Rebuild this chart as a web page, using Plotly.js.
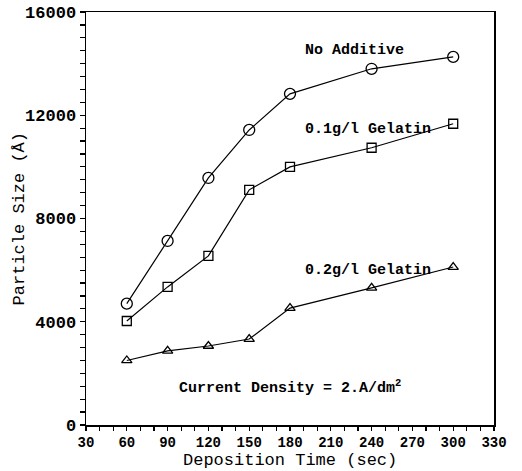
<!DOCTYPE html>
<html>
<head>
<meta charset="utf-8">
<script src="https://cdn.plot.ly/plotly-3.0.1.min.js"></script>
<style>html,body{margin:0;padding:0;background:#fff;}#chart{width:522px;height:471px;}</style>
</head>
<body>
<div id="chart"></div>
<script>
const times = [60, 90, 120, 150, 180, 240, 300];
const noAdditive = [4700, 7130, 9570, 11430, 12830, 13800, 14260];
const gelatin01 = [4030, 5350, 6550, 9110, 10000, 10740, 11670];
const gelatin02 = [2500, 2870, 3060, 3330, 4530, 5310, 6120];
const seriesNames = ["No Additive", "0.1g/l Gelatin", "0.2g/l Gelatin"];
const xTickStart = 30, xTickStep = 30, xMinorStep = 10;
const yTickStep = 4000, yMinorStep = 500;
const xRange = [30, 330], yRange = [0, 16000];

function tickSet(lo, hi, minor, major, offset) {
  const vals = [], text = [];
  for (let v = lo; v <= hi; v += minor) {
    vals.push(v);
    text.push(((v - offset) % major === 0) ? String(v) : '');
  }
  return {vals, text};
}
const xTicks = tickSet(xRange[0], xRange[1], xMinorStep, xTickStep, xTickStart);
const yTicks = tickSet(yRange[0], yRange[1], yMinorStep, yTickStep, 0);

const FONT = '"Courier New", "Liberation Mono", "DejaVu Sans Mono", monospace';

function trace(y, symbol, size, name) {
  return {
    x: times, y: y, name: name, type: 'scatter', mode: 'lines+markers',
    line: {color: '#000', width: 1.2},
    marker: {symbol: symbol, size: size, color: '#000', line: {color: '#000', width: 1.3}},
    showlegend: false
  };
}

const data = [
  trace(noAdditive, 'circle-open', 11, seriesNames[0]),
  trace(gelatin01, 'square-open', 9, seriesNames[1]),
  trace(gelatin02, 'triangle-up-open', 9, seriesNames[2])
];

const layout = {
  width: 522, height: 471,
  margin: {l: 86, r: 28, t: 12, b: 46},
  paper_bgcolor: '#fff', plot_bgcolor: '#fff',
  font: {family: FONT, color: '#000', size: 13},
  xaxis: {
    range: xRange, tickmode: 'array', tickvals: xTicks.vals, ticktext: xTicks.text,
    ticks: 'outside', ticklen: 4, tickwidth: 1.2, tickcolor: '#000',
    showgrid: false, zeroline: false, showline: true, linecolor: '#000', linewidth: 1.5,
    mirror: true,
    tickfont: {family: FONT, size: 14, color: '#000', weight: 'bold'}
  },
  yaxis: {
    range: yRange, tickmode: 'array', tickvals: yTicks.vals, ticktext: yTicks.text,
    ticks: 'outside', ticklen: 5, tickwidth: 1.2, tickcolor: '#000',
    showgrid: false, zeroline: false, showline: true, linecolor: '#000', linewidth: 1.5,
    mirror: true,
    tickfont: {family: FONT, size: 17, color: '#000', weight: 'bold'}
  },
  annotations: [
    {x: -0.162, y: 0.5, xref: 'paper', yref: 'paper', xanchor: 'center', yanchor: 'middle', showarrow: false,
     textangle: -90, text: 'Particle Size (Å)', font: {family: FONT, size: 17, color: '#000'}},
    {x: 0.5, y: -0.086, xref: 'paper', yref: 'paper', xanchor: 'center', yanchor: 'middle', showarrow: false,
     text: 'Deposition Time (sec)', font: {family: FONT, size: 17, color: '#000'}},
    {x: 0.533, y: 0.906, xref: 'paper', yref: 'paper', xanchor: 'left', yanchor: 'middle', showarrow: false,
     text: 'No Additive', font: {family: FONT, size: 15, color: '#000', weight: 'bold'}},
    {x: 0.533, y: 0.715, xref: 'paper', yref: 'paper', xanchor: 'left', yanchor: 'middle', showarrow: false,
     text: '0.1g/l Gelatin', font: {family: FONT, size: 15, color: '#000', weight: 'bold'}},
    {x: 0.533, y: 0.375, xref: 'paper', yref: 'paper', xanchor: 'left', yanchor: 'middle', showarrow: false,
     text: '0.2g/l Gelatin', font: {family: FONT, size: 15, color: '#000', weight: 'bold'}},
    {x: 0.223, y: 0.092, xref: 'paper', yref: 'paper', xanchor: 'left', yanchor: 'middle', showarrow: false,
     text: 'Current Density = 2.A/dm<sup>2</sup>', font: {family: FONT, size: 15, color: '#000', weight: 'bold'}}
  ]
};

Plotly.newPlot('chart', data, layout, {staticPlot: true, displayModeBar: false});
</script>
</body>
</html>
